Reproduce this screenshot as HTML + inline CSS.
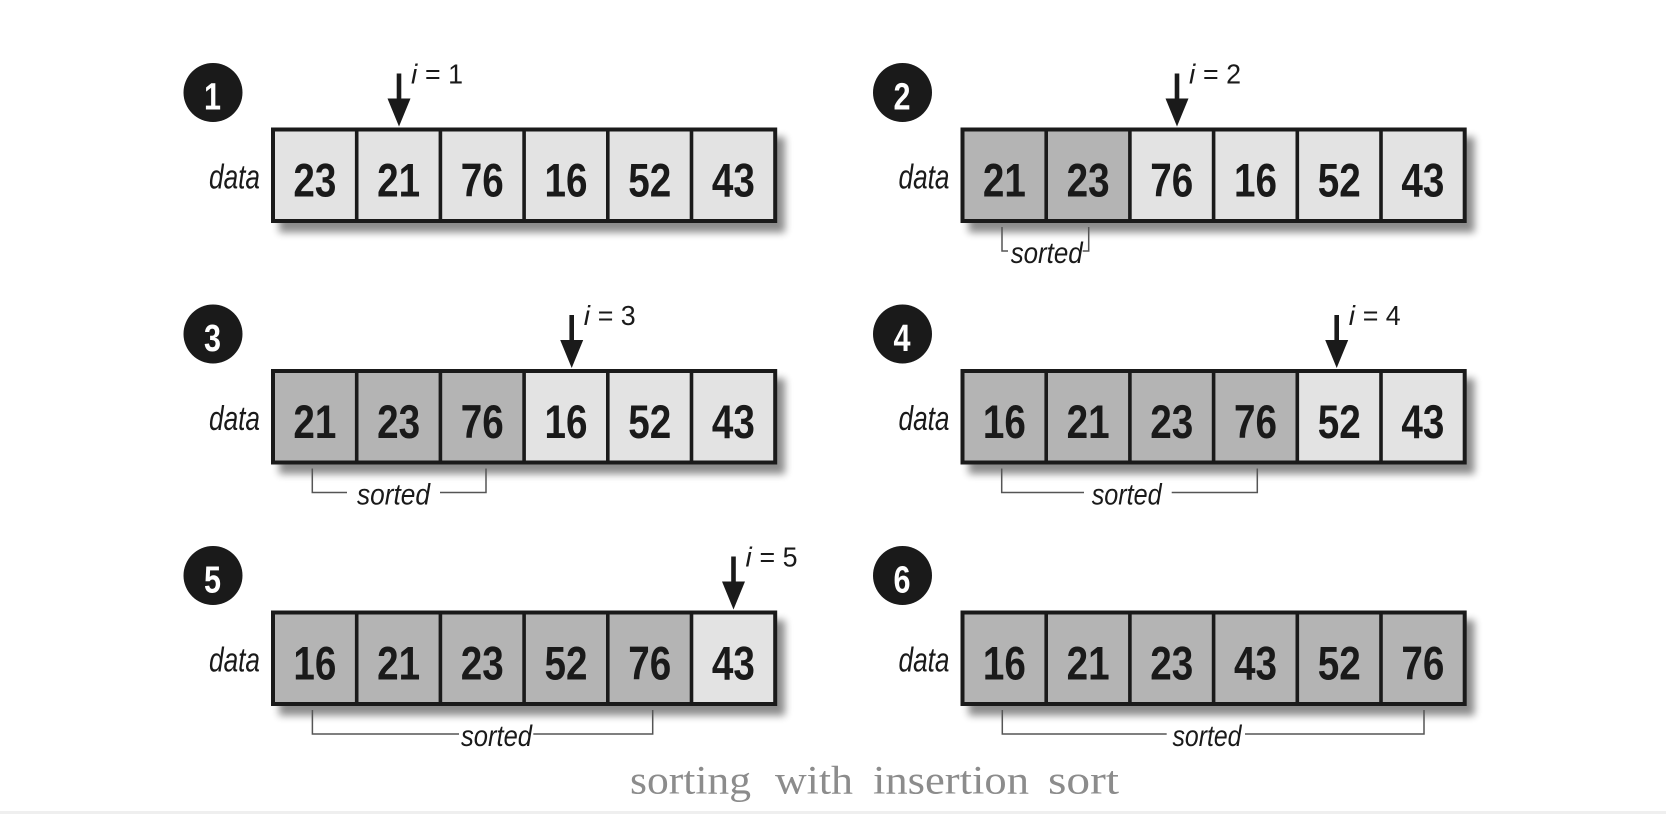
<!DOCTYPE html>
<html>
<head>
<meta charset="utf-8">
<style>
html,body{margin:0;padding:0;background:#fff;}
body{width:1666px;height:814px;overflow:hidden;}
svg{display:block;}
.num{font-family:"Liberation Sans Narrow","Liberation Sans",sans-serif;font-weight:bold;font-size:47px;fill:#1a1a1a;}
.cnum{font-family:"Liberation Sans Narrow","Liberation Sans",sans-serif;font-weight:bold;font-size:38px;fill:#fff;}
.lbl{font-family:"Liberation Sans Narrow","Liberation Sans",sans-serif;font-style:italic;fill:#1a1a1a;}
.eq{font-family:"Liberation Sans Narrow","Liberation Sans",sans-serif;font-size:28px;fill:#1a1a1a;}
.cap{font-family:"Liberation Serif",serif;font-size:40px;fill:#8c8c8c;}
.lt{fill:#e3e3e3;}
.dk{fill:#b4b4b4;}
.div{stroke:#1a1a1a;stroke-width:3.6;}
.box{fill:none;stroke:#1a1a1a;stroke-width:4;}
.br{fill:none;stroke:#555;stroke-width:1.5;}
</style>
</head>
<body>
<svg width="1666" height="814" viewBox="0 0 1666 814" xmlns="http://www.w3.org/2000/svg">
<defs>
<filter id="sh" x="-10%" y="-30%" width="120%" height="160%">
<feGaussianBlur stdDeviation="4"/>
</filter>
</defs>
<rect x="0" y="0" width="1666" height="814" fill="#fff"/>
<rect x="0" y="811" width="1666" height="3" fill="#efefef"/>

<!-- ================= PANEL 1 ================= -->
<g transform="translate(0,0)">
<circle cx="213" cy="92.5" r="29.5" fill="#1a1a1a"/>
<text class="cnum" x="212.5" y="109.5" text-anchor="middle" textLength="17" lengthAdjust="spacingAndGlyphs">1</text>
<text class="lbl" x="209" y="188.5" font-size="34" textLength="51" lengthAdjust="spacingAndGlyphs">data</text>
<rect x="279" y="137" width="506" height="95.5" fill="#000" opacity="0.45" filter="url(#sh)"/>
<rect class="lt" x="273" y="129.5" width="83.7" height="91.5"/>
<rect class="lt" x="356.7" y="129.5" width="83.7" height="91.5"/>
<rect class="lt" x="440.4" y="129.5" width="83.7" height="91.5"/>
<rect class="lt" x="524.1" y="129.5" width="83.7" height="91.5"/>
<rect class="lt" x="607.8" y="129.5" width="83.7" height="91.5"/>
<rect class="lt" x="691.5" y="129.5" width="83.7" height="91.5"/>
<line class="div" x1="356.7" y1="129.5" x2="356.7" y2="221"/>
<line class="div" x1="440.4" y1="129.5" x2="440.4" y2="221"/>
<line class="div" x1="524.1" y1="129.5" x2="524.1" y2="221"/>
<line class="div" x1="607.8" y1="129.5" x2="607.8" y2="221"/>
<line class="div" x1="691.5" y1="129.5" x2="691.5" y2="221"/>
<rect class="box" x="273" y="129.5" width="502.2" height="91.5"/>
<text class="num" x="314.9" y="196.5" text-anchor="middle" textLength="43" lengthAdjust="spacingAndGlyphs">23</text>
<text class="num" x="398.6" y="196.5" text-anchor="middle" textLength="43" lengthAdjust="spacingAndGlyphs">21</text>
<text class="num" x="482.3" y="196.5" text-anchor="middle" textLength="43" lengthAdjust="spacingAndGlyphs">76</text>
<text class="num" x="566.0" y="196.5" text-anchor="middle" textLength="43" lengthAdjust="spacingAndGlyphs">16</text>
<text class="num" x="649.7" y="196.5" text-anchor="middle" textLength="43" lengthAdjust="spacingAndGlyphs">52</text>
<text class="num" x="733.4" y="196.5" text-anchor="middle" textLength="43" lengthAdjust="spacingAndGlyphs">43</text>
<rect x="396.7" y="73.5" width="4.6" height="26" fill="#1a1a1a"/>
<polygon points="387.5,98.5 410.5,98.5 399,126.5" fill="#1a1a1a"/>
<text class="lbl" x="411" y="83.5" font-size="28">i</text>
<text class="eq" x="425" y="83.5" textLength="38" lengthAdjust="spacingAndGlyphs">= 1</text>
</g>

<!-- ================= PANEL 2 ================= -->
<g transform="translate(689.5,0)">
<circle cx="213" cy="92.5" r="29.5" fill="#1a1a1a"/>
<text class="cnum" x="212.5" y="109.5" text-anchor="middle" textLength="17" lengthAdjust="spacingAndGlyphs">2</text>
<text class="lbl" x="209" y="188.5" font-size="34" textLength="51" lengthAdjust="spacingAndGlyphs">data</text>
<rect x="279" y="137" width="506" height="95.5" fill="#000" opacity="0.45" filter="url(#sh)"/>
<rect class="dk" x="273" y="129.5" width="83.7" height="91.5"/>
<rect class="dk" x="356.7" y="129.5" width="83.7" height="91.5"/>
<rect class="lt" x="440.4" y="129.5" width="83.7" height="91.5"/>
<rect class="lt" x="524.1" y="129.5" width="83.7" height="91.5"/>
<rect class="lt" x="607.8" y="129.5" width="83.7" height="91.5"/>
<rect class="lt" x="691.5" y="129.5" width="83.7" height="91.5"/>
<line class="div" x1="356.7" y1="129.5" x2="356.7" y2="221"/>
<line class="div" x1="440.4" y1="129.5" x2="440.4" y2="221"/>
<line class="div" x1="524.1" y1="129.5" x2="524.1" y2="221"/>
<line class="div" x1="607.8" y1="129.5" x2="607.8" y2="221"/>
<line class="div" x1="691.5" y1="129.5" x2="691.5" y2="221"/>
<rect class="box" x="273" y="129.5" width="502.2" height="91.5"/>
<text class="num" x="314.9" y="196.5" text-anchor="middle" textLength="43" lengthAdjust="spacingAndGlyphs">21</text>
<text class="num" x="398.6" y="196.5" text-anchor="middle" textLength="43" lengthAdjust="spacingAndGlyphs">23</text>
<text class="num" x="482.3" y="196.5" text-anchor="middle" textLength="43" lengthAdjust="spacingAndGlyphs">76</text>
<text class="num" x="566.0" y="196.5" text-anchor="middle" textLength="43" lengthAdjust="spacingAndGlyphs">16</text>
<text class="num" x="649.7" y="196.5" text-anchor="middle" textLength="43" lengthAdjust="spacingAndGlyphs">52</text>
<text class="num" x="733.4" y="196.5" text-anchor="middle" textLength="43" lengthAdjust="spacingAndGlyphs">43</text>
<rect x="485.2" y="73.5" width="4.6" height="26" fill="#1a1a1a"/>
<polygon points="476,98.5 499,98.5 487.5,126.5" fill="#1a1a1a"/>
<text class="lbl" x="499.5" y="83.5" font-size="28">i</text>
<text class="eq" x="513.5" y="83.5" textLength="38" lengthAdjust="spacingAndGlyphs">= 2</text>
<polyline class="br" points="312.5,227 312.5,251 318.5,251"/>
<polyline class="br" points="399.2,227 399.2,251 393.2,251"/>
<text class="lbl" x="357.2" y="263" font-size="30" text-anchor="middle" textLength="72" lengthAdjust="spacingAndGlyphs">sorted</text>
</g>

<!-- ================= PANEL 3 ================= -->
<g transform="translate(0,241.5)">
<circle cx="213" cy="92.5" r="29.5" fill="#1a1a1a"/>
<text class="cnum" x="212.5" y="109.5" text-anchor="middle" textLength="17" lengthAdjust="spacingAndGlyphs">3</text>
<text class="lbl" x="209" y="188.5" font-size="34" textLength="51" lengthAdjust="spacingAndGlyphs">data</text>
<rect x="279" y="137" width="506" height="95.5" fill="#000" opacity="0.45" filter="url(#sh)"/>
<rect class="dk" x="273" y="129.5" width="83.7" height="91.5"/>
<rect class="dk" x="356.7" y="129.5" width="83.7" height="91.5"/>
<rect class="dk" x="440.4" y="129.5" width="83.7" height="91.5"/>
<rect class="lt" x="524.1" y="129.5" width="83.7" height="91.5"/>
<rect class="lt" x="607.8" y="129.5" width="83.7" height="91.5"/>
<rect class="lt" x="691.5" y="129.5" width="83.7" height="91.5"/>
<line class="div" x1="356.7" y1="129.5" x2="356.7" y2="221"/>
<line class="div" x1="440.4" y1="129.5" x2="440.4" y2="221"/>
<line class="div" x1="524.1" y1="129.5" x2="524.1" y2="221"/>
<line class="div" x1="607.8" y1="129.5" x2="607.8" y2="221"/>
<line class="div" x1="691.5" y1="129.5" x2="691.5" y2="221"/>
<rect class="box" x="273" y="129.5" width="502.2" height="91.5"/>
<text class="num" x="314.9" y="196.5" text-anchor="middle" textLength="43" lengthAdjust="spacingAndGlyphs">21</text>
<text class="num" x="398.6" y="196.5" text-anchor="middle" textLength="43" lengthAdjust="spacingAndGlyphs">23</text>
<text class="num" x="482.3" y="196.5" text-anchor="middle" textLength="43" lengthAdjust="spacingAndGlyphs">76</text>
<text class="num" x="566.0" y="196.5" text-anchor="middle" textLength="43" lengthAdjust="spacingAndGlyphs">16</text>
<text class="num" x="649.7" y="196.5" text-anchor="middle" textLength="43" lengthAdjust="spacingAndGlyphs">52</text>
<text class="num" x="733.4" y="196.5" text-anchor="middle" textLength="43" lengthAdjust="spacingAndGlyphs">43</text>
<rect x="569.4" y="73.5" width="4.6" height="26" fill="#1a1a1a"/>
<polygon points="560.2,98.5 583.2,98.5 571.7,126.5" fill="#1a1a1a"/>
<text class="lbl" x="583.7" y="83.5" font-size="28">i</text>
<text class="eq" x="597.7" y="83.5" textLength="38" lengthAdjust="spacingAndGlyphs">= 3</text>
<polyline class="br" points="312.3,227 312.3,251 347,251"/>
<polyline class="br" points="486,227 486,251 440,251"/>
<text class="lbl" x="393.5" y="263" font-size="30" text-anchor="middle" textLength="73" lengthAdjust="spacingAndGlyphs">sorted</text>
</g>

<!-- ================= PANEL 4 ================= -->
<g transform="translate(689.5,241.5)">
<circle cx="213" cy="92.5" r="29.5" fill="#1a1a1a"/>
<text class="cnum" x="212.5" y="109.5" text-anchor="middle" textLength="17" lengthAdjust="spacingAndGlyphs">4</text>
<text class="lbl" x="209" y="188.5" font-size="34" textLength="51" lengthAdjust="spacingAndGlyphs">data</text>
<rect x="279" y="137" width="506" height="95.5" fill="#000" opacity="0.45" filter="url(#sh)"/>
<rect class="dk" x="273" y="129.5" width="83.7" height="91.5"/>
<rect class="dk" x="356.7" y="129.5" width="83.7" height="91.5"/>
<rect class="dk" x="440.4" y="129.5" width="83.7" height="91.5"/>
<rect class="dk" x="524.1" y="129.5" width="83.7" height="91.5"/>
<rect class="lt" x="607.8" y="129.5" width="83.7" height="91.5"/>
<rect class="lt" x="691.5" y="129.5" width="83.7" height="91.5"/>
<line class="div" x1="356.7" y1="129.5" x2="356.7" y2="221"/>
<line class="div" x1="440.4" y1="129.5" x2="440.4" y2="221"/>
<line class="div" x1="524.1" y1="129.5" x2="524.1" y2="221"/>
<line class="div" x1="607.8" y1="129.5" x2="607.8" y2="221"/>
<line class="div" x1="691.5" y1="129.5" x2="691.5" y2="221"/>
<rect class="box" x="273" y="129.5" width="502.2" height="91.5"/>
<text class="num" x="314.9" y="196.5" text-anchor="middle" textLength="43" lengthAdjust="spacingAndGlyphs">16</text>
<text class="num" x="398.6" y="196.5" text-anchor="middle" textLength="43" lengthAdjust="spacingAndGlyphs">21</text>
<text class="num" x="482.3" y="196.5" text-anchor="middle" textLength="43" lengthAdjust="spacingAndGlyphs">23</text>
<text class="num" x="566.0" y="196.5" text-anchor="middle" textLength="43" lengthAdjust="spacingAndGlyphs">76</text>
<text class="num" x="649.7" y="196.5" text-anchor="middle" textLength="43" lengthAdjust="spacingAndGlyphs">52</text>
<text class="num" x="733.4" y="196.5" text-anchor="middle" textLength="43" lengthAdjust="spacingAndGlyphs">43</text>
<rect x="644.9" y="73.5" width="4.6" height="26" fill="#1a1a1a"/>
<polygon points="635.7,98.5 658.7,98.5 647.2,126.5" fill="#1a1a1a"/>
<text class="lbl" x="659.2" y="83.5" font-size="28">i</text>
<text class="eq" x="673.2" y="83.5" textLength="38" lengthAdjust="spacingAndGlyphs">= 4</text>
<polyline class="br" points="312.2,227 312.2,251 394.5,251"/>
<polyline class="br" points="567.8,227 567.8,251 482.2,251"/>
<text class="lbl" x="437.2" y="263" font-size="30" text-anchor="middle" textLength="70" lengthAdjust="spacingAndGlyphs">sorted</text>
</g>

<!-- ================= PANEL 5 ================= -->
<g transform="translate(0,483)">
<circle cx="213" cy="92.5" r="29.5" fill="#1a1a1a"/>
<text class="cnum" x="212.5" y="109.5" text-anchor="middle" textLength="17" lengthAdjust="spacingAndGlyphs">5</text>
<text class="lbl" x="209" y="188.5" font-size="34" textLength="51" lengthAdjust="spacingAndGlyphs">data</text>
<rect x="279" y="137" width="506" height="95.5" fill="#000" opacity="0.45" filter="url(#sh)"/>
<rect class="dk" x="273" y="129.5" width="83.7" height="91.5"/>
<rect class="dk" x="356.7" y="129.5" width="83.7" height="91.5"/>
<rect class="dk" x="440.4" y="129.5" width="83.7" height="91.5"/>
<rect class="dk" x="524.1" y="129.5" width="83.7" height="91.5"/>
<rect class="dk" x="607.8" y="129.5" width="83.7" height="91.5"/>
<rect class="lt" x="691.5" y="129.5" width="83.7" height="91.5"/>
<line class="div" x1="356.7" y1="129.5" x2="356.7" y2="221"/>
<line class="div" x1="440.4" y1="129.5" x2="440.4" y2="221"/>
<line class="div" x1="524.1" y1="129.5" x2="524.1" y2="221"/>
<line class="div" x1="607.8" y1="129.5" x2="607.8" y2="221"/>
<line class="div" x1="691.5" y1="129.5" x2="691.5" y2="221"/>
<rect class="box" x="273" y="129.5" width="502.2" height="91.5"/>
<text class="num" x="314.9" y="196.5" text-anchor="middle" textLength="43" lengthAdjust="spacingAndGlyphs">16</text>
<text class="num" x="398.6" y="196.5" text-anchor="middle" textLength="43" lengthAdjust="spacingAndGlyphs">21</text>
<text class="num" x="482.3" y="196.5" text-anchor="middle" textLength="43" lengthAdjust="spacingAndGlyphs">23</text>
<text class="num" x="566.0" y="196.5" text-anchor="middle" textLength="43" lengthAdjust="spacingAndGlyphs">52</text>
<text class="num" x="649.7" y="196.5" text-anchor="middle" textLength="43" lengthAdjust="spacingAndGlyphs">76</text>
<text class="num" x="733.4" y="196.5" text-anchor="middle" textLength="43" lengthAdjust="spacingAndGlyphs">43</text>
<rect x="731.2" y="73.5" width="4.6" height="26" fill="#1a1a1a"/>
<polygon points="722,98.5 745,98.5 733.5,126.5" fill="#1a1a1a"/>
<text class="lbl" x="745.5" y="83.5" font-size="28">i</text>
<text class="eq" x="759.5" y="83.5" textLength="38" lengthAdjust="spacingAndGlyphs">= 5</text>
<polyline class="br" points="312.4,227 312.4,251 459,251"/>
<polyline class="br" points="652.7,227 652.7,251 533.3,251"/>
<text class="lbl" x="496.5" y="263" font-size="30" text-anchor="middle" textLength="71" lengthAdjust="spacingAndGlyphs">sorted</text>
</g>

<!-- ================= PANEL 6 ================= -->
<g transform="translate(689.5,483)">
<circle cx="213" cy="92.5" r="29.5" fill="#1a1a1a"/>
<text class="cnum" x="212.5" y="109.5" text-anchor="middle" textLength="17" lengthAdjust="spacingAndGlyphs">6</text>
<text class="lbl" x="209" y="188.5" font-size="34" textLength="51" lengthAdjust="spacingAndGlyphs">data</text>
<rect x="279" y="137" width="506" height="95.5" fill="#000" opacity="0.45" filter="url(#sh)"/>
<rect class="dk" x="273" y="129.5" width="83.7" height="91.5"/>
<rect class="dk" x="356.7" y="129.5" width="83.7" height="91.5"/>
<rect class="dk" x="440.4" y="129.5" width="83.7" height="91.5"/>
<rect class="dk" x="524.1" y="129.5" width="83.7" height="91.5"/>
<rect class="dk" x="607.8" y="129.5" width="83.7" height="91.5"/>
<rect class="dk" x="691.5" y="129.5" width="83.7" height="91.5"/>
<line class="div" x1="356.7" y1="129.5" x2="356.7" y2="221"/>
<line class="div" x1="440.4" y1="129.5" x2="440.4" y2="221"/>
<line class="div" x1="524.1" y1="129.5" x2="524.1" y2="221"/>
<line class="div" x1="607.8" y1="129.5" x2="607.8" y2="221"/>
<line class="div" x1="691.5" y1="129.5" x2="691.5" y2="221"/>
<rect class="box" x="273" y="129.5" width="502.2" height="91.5"/>
<text class="num" x="314.9" y="196.5" text-anchor="middle" textLength="43" lengthAdjust="spacingAndGlyphs">16</text>
<text class="num" x="398.6" y="196.5" text-anchor="middle" textLength="43" lengthAdjust="spacingAndGlyphs">21</text>
<text class="num" x="482.3" y="196.5" text-anchor="middle" textLength="43" lengthAdjust="spacingAndGlyphs">23</text>
<text class="num" x="566.0" y="196.5" text-anchor="middle" textLength="43" lengthAdjust="spacingAndGlyphs">43</text>
<text class="num" x="649.7" y="196.5" text-anchor="middle" textLength="43" lengthAdjust="spacingAndGlyphs">52</text>
<text class="num" x="733.4" y="196.5" text-anchor="middle" textLength="43" lengthAdjust="spacingAndGlyphs">76</text>
<polyline class="br" points="312.8,227 312.8,251 477.2,251"/>
<polyline class="br" points="734.5,227 734.5,251 555.5,251"/>
<text class="lbl" x="517.5" y="263" font-size="30" text-anchor="middle" textLength="69" lengthAdjust="spacingAndGlyphs">sorted</text>
</g>

<!-- caption -->
<text class="cap" x="630" y="793.5" textLength="121" lengthAdjust="spacingAndGlyphs">sorting</text>
<text class="cap" x="775" y="793.5" textLength="78" lengthAdjust="spacingAndGlyphs">with</text>
<text class="cap" x="873" y="793.5" textLength="156" lengthAdjust="spacingAndGlyphs">insertion</text>
<text class="cap" x="1048" y="793.5" textLength="71" lengthAdjust="spacingAndGlyphs">sort</text>
</svg>
</body>
</html>
